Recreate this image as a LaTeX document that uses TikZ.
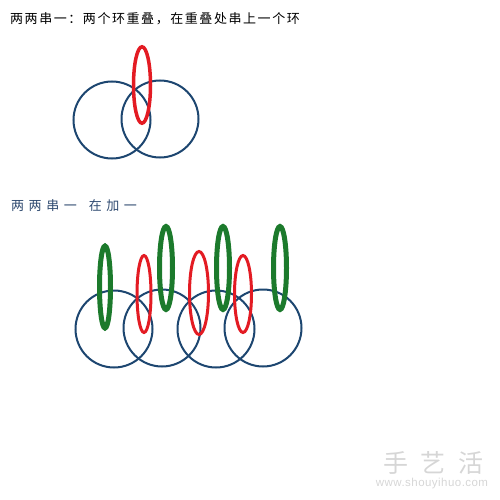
\documentclass[tikz,border=0pt]{standalone}
\usepackage{fontspec}
\usetikzlibrary{shapes.geometric}
\newfontfamily\cjka[LetterSpace=12]{Noto Sans CJK SC}
\newfontfamily\cjkb[LetterSpace=35]{Noto Sans CJK SC}
\newfontfamily\cjkw[LetterSpace=50]{Noto Sans CJK SC}
\newfontfamily\urlfont[LetterSpace=4]{Liberation Sans}
\definecolor{ringblue}{HTML}{1D4670}
\definecolor{ringred}{HTML}{E31B23}
\definecolor{ringgreen}{HTML}{1C7A2C}
\definecolor{labelblue}{HTML}{2F4A70}
\tikzset{
  bluering/.style={circle, draw=ringblue, line width=2pt, minimum size=77pt, inner sep=0pt},
  redring/.style={ellipse, draw=ringred, line width=3pt, inner sep=0pt},
  greenring/.style={ellipse, draw=ringgreen, line width=5pt, inner sep=0pt},
  title/.style={anchor=west, inner sep=0pt, font=\fontsize{13}{15}\selectfont},
  wmark/.style={text=black!16, inner sep=0pt}
}
\begin{document}
\begin{tikzpicture}[x=1pt,y=-1pt]
\useasboundingbox (0,0) rectangle (500,500);
% top text
\node[title] (t1) at (10,19) {\cjka 两两串一：两个环重叠，在重叠处串上一个环};
% top rings
\node[bluering] (a1) at (112,120) {};
\node[bluering] (a2) at (160,119) {};
\node[redring, line width=3.5pt, minimum width=17pt, minimum height=76.5pt] (ar) at (142,85) {};
% middle text
\node[title, text=labelblue] (t2) at (11,206) {\cjkb 两两串一\hspace{12pt}在加一};
% bottom rings
\node[bluering] (b1) at (114,329) {};
\node[bluering] (b2) at (162,328) {};
\node[bluering] (b3) at (216,329) {};
\node[bluering] (b4) at (263,328) {};
\node[redring, minimum width=14pt, minimum height=77pt] (r1) at (144,294) {};
\node[redring, minimum width=19pt, minimum height=83pt] (r2) at (199,293) {};
\node[redring, minimum width=17pt, minimum height=77pt] (r3) at (243,294) {};
\node[greenring, minimum width=11pt, minimum height=82pt] (g1) at (105,287) {};
\node[greenring, minimum width=13pt, minimum height=83pt] (g2) at (166,268) {};
\node[greenring, minimum width=13pt, minimum height=83pt] (g3) at (223,268) {};
\node[greenring, minimum width=13pt, minimum height=83pt] (g4) at (280,268) {};
% watermark
\node[wmark, font=\fontsize{25}{27}\selectfont] (w1) at (433,463) {\cjkw 手艺活};
\node[wmark, font=\fontsize{11.5}{13}\selectfont] (w2) at (432,484) {\urlfont www.shouyihuo.com};
\end{tikzpicture}
\end{document}
